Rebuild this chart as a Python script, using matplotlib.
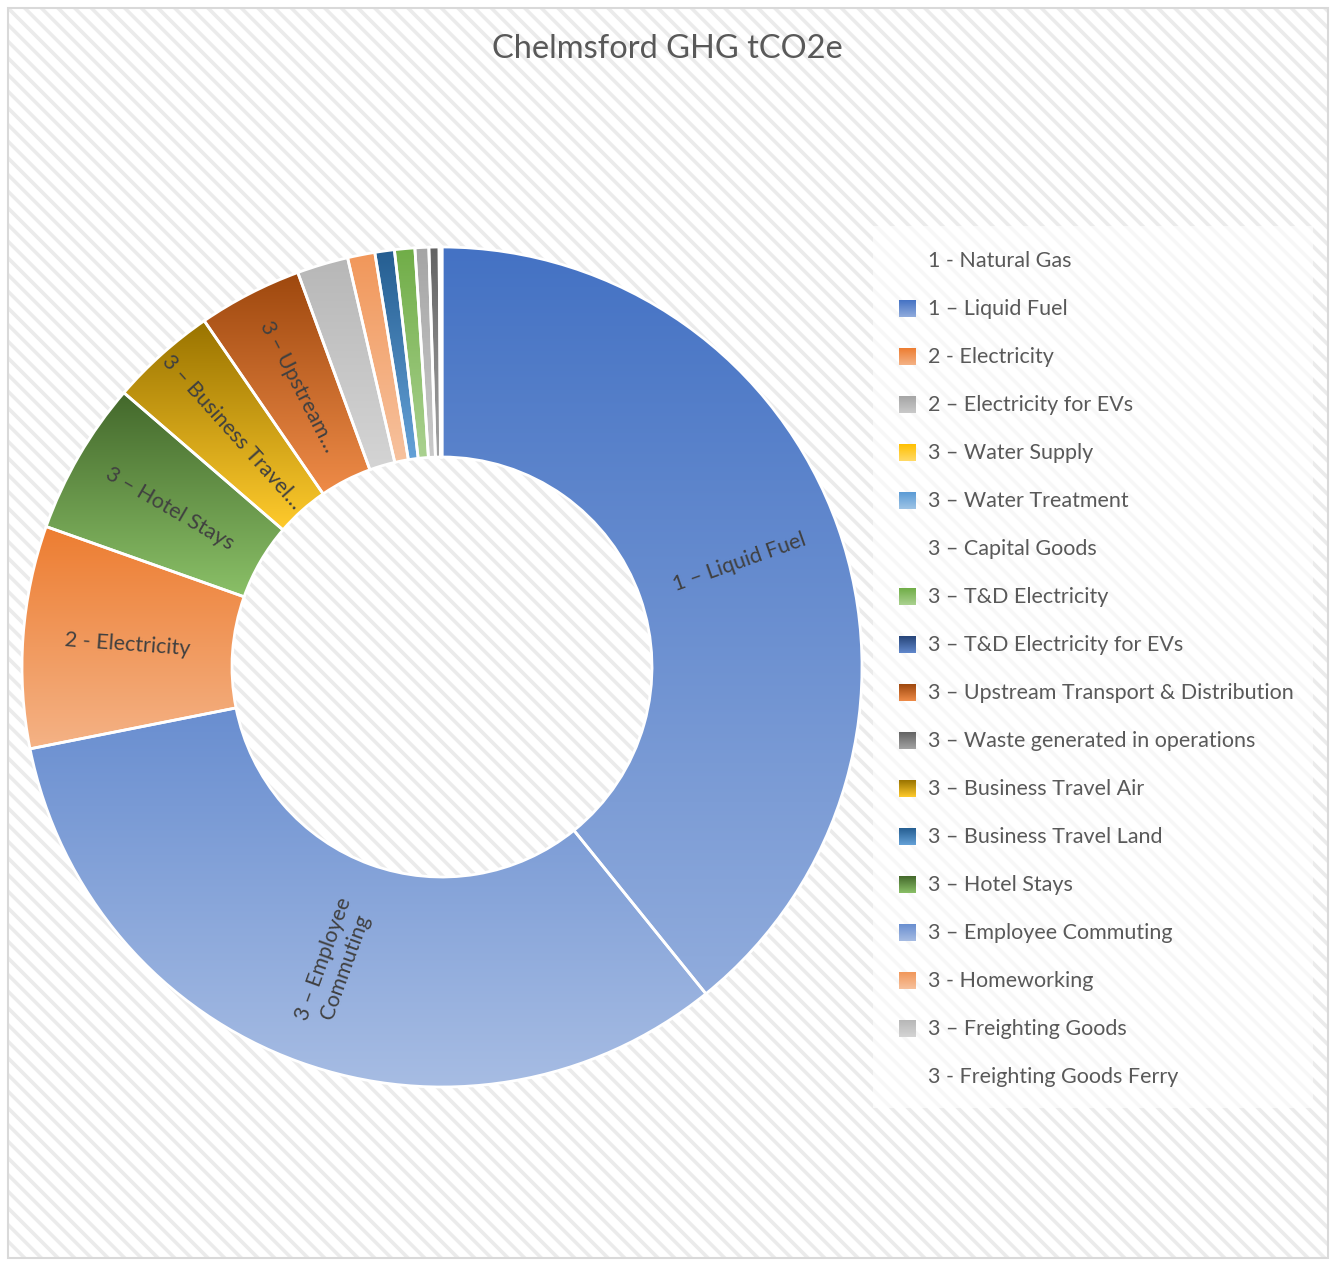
import colorsys
import numpy as np
import matplotlib
matplotlib.use('Agg')
import matplotlib.pyplot as plt
from matplotlib.patches import Rectangle
from matplotlib.colors import to_rgb

plt.rcParams['font.family'] = ['Lato', 'DejaVu Sans']
plt.rcParams['hatch.linewidth'] = 2.6

# ring slices, clockwise from 12 o'clock (share of total, %)
slice_names = ['1 – Liquid Fuel', '3 – Employee Commuting', '2 - Electricity',
               '3 – Hotel Stays', '3 – Business Travel Air',
               '3 – Upstream Transport & Distribution', '3 – Freighting Goods',
               '3 - Homeworking', '3 – Business Travel Land', '3 – T&D Electricity',
               '2 – Electricity for EVs', '3 – Waste generated in operations',
               '3 – Water Supply', '3 – Water Treatment', '3 – T&D Electricity for EVs']
slice_share = [39.2, 32.7, 8.55, 5.9, 4.1, 4.0, 1.97, 1.05, 0.75, 0.78, 0.53, 0.39,
               0.04, 0.04, 0.03]
slice_text = ['1 – Liquid Fuel', '3 – Employee\nCommuting', '2 - Electricity',
              '3 – Hotel Stays', '3 – Business Travel…', '3 – Upstream…',
              '', '', '', '', '', '', '', '', '']

# legend (None = no marker)
legend_names = ['1 - Natural Gas', '1 – Liquid Fuel', '2 - Electricity',
                '2 – Electricity for EVs', '3 – Water Supply', '3 – Water Treatment',
                '3 – Capital Goods', '3 – T&D Electricity', '3 – T&D Electricity for EVs',
                '3 – Upstream Transport & Distribution', '3 – Waste generated in operations',
                '3 – Business Travel Air', '3 – Business Travel Land', '3 – Hotel Stays',
                '3 – Employee Commuting', '3 - Homeworking', '3 – Freighting Goods',
                '3 - Freighting Goods Ferry']
legend_colors = [None, '#4472C4', '#ED7D31', '#A5A5A5', '#FFC000', '#5B9BD5', None,
                 '#70AD47', '#264478', '#9E480E', '#636363', '#997300', '#255E91',
                 '#43682B', '#698ED0', '#F1975A', '#B7B7B7', None]
color_of = dict(zip(legend_names, legend_colors))


def lighter(c, k=0.41):
    h, l, s = colorsys.rgb_to_hls(*to_rgb(c))
    return colorsys.hls_to_rgb(h, l + k * (1 - l), s)


def grad(c, n=256):
    a = np.array(to_rgb(c))
    b = np.array(lighter(c))
    t = np.linspace(0, 1, n)[:, None]
    return (a + (b - a) * t)[:, None, :]


W, H = 1333, 1261
fig = plt.figure(figsize=(W / 100, H / 100), dpi=100)

# background, frame, title, legend in pixel coords
bg = fig.add_axes([0, 0, 1, 1])
bg.add_patch(Rectangle((8, 8), 1320, 1250, facecolor='white', edgecolor='#EBEBEB',
                       hatch='\\\\', linewidth=0, zorder=0))
bg.add_patch(Rectangle((8, 8), 1320, 1250, fill=False, edgecolor='#D9D9D9',
                       linewidth=1.5, zorder=1))
bg.add_patch(Rectangle((873, 226), 440, 882, facecolor='white', alpha=0.65,
                       linewidth=0, zorder=1))
bg.text(667, 49, 'Chelmsford GHG tCO2e', ha='center', va='center', fontsize=23.5,
        color='#595959')

for i, (name, col) in enumerate(zip(legend_names, legend_colors)):
    y = 261 + 48 * i
    if col is not None:
        bg.imshow(grad(col), extent=(899, 916, y + 8.5, y - 8.5), origin='upper',
                  aspect='auto', interpolation='bilinear', zorder=3)
    bg.text(928, y, name, ha='left', va='center', fontsize=15.5, color='#595959',
            zorder=4)

bg.set_xlim(0, W)
bg.set_ylim(H, 0)
bg.axis('off')

# donut: centre (442, 667) px, outer radius 420 px
cx, cy, R = 442, 667, 420
ax = fig.add_axes([(cx - R) / W, (H - cy - R) / H, 2 * R / W, 2 * R / H])
wedges, texts = ax.pie(slice_share, colors=[color_of[n] for n in slice_names],
                       startangle=90, counterclock=False, labels=slice_text,
                       labeldistance=0.75, rotatelabels=True,
                       wedgeprops=dict(width=0.5, edgecolor='white', linewidth=2),
                       textprops=dict(fontsize=15.5, color='#404040'))

for w, n in zip(wedges, slice_names):
    ext = w.get_path().get_extents()
    im = ax.imshow(grad(color_of[n]), extent=(ext.x0, ext.x1, ext.y0, ext.y1),
                   origin='upper', aspect='auto', interpolation='bilinear', zorder=1)
    im.set_clip_path(w)
    w.set_facecolor('none')
    w.set_zorder(2)

for t in texts:
    t.set_ha('center')
    t.set_va('center')
    t.set_multialignment('center')
    t.set_zorder(3)

ax.set_xlim(-1, 1)
ax.set_ylim(-1, 1)
ax.set_aspect('equal')
ax.axis('off')

fig.savefig('out.png', dpi=100)
